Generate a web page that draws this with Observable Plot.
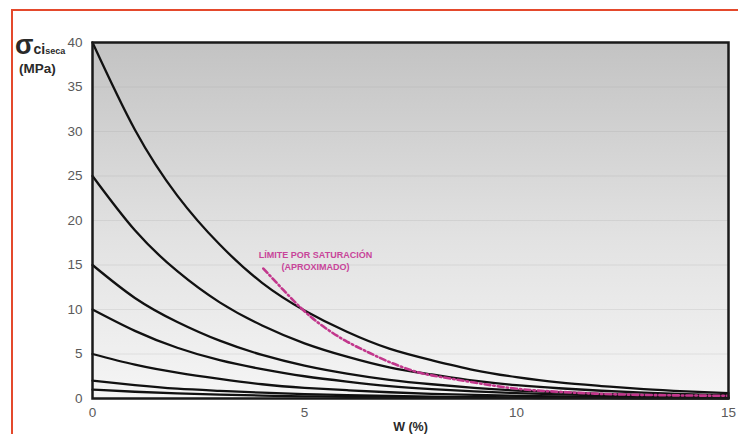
<!DOCTYPE html>
<html>
<head>
<meta charset="utf-8">
<script src="https://cdn.jsdelivr.net/npm/d3@7"></script>
<script src="https://cdn.jsdelivr.net/npm/@observablehq/plot@0.6"></script>
<style>
  html, body { margin: 0; padding: 0; background: #fff; }
  #wrap { position: relative; width: 738px; height: 434px; overflow: hidden; font-family: "Liberation Sans", Arial, sans-serif; }
  #redframe { position: absolute; left: 11px; top: 9px; width: 740px; height: 440px; border-top: 2.5px solid #e4492c; border-left: 2.5px solid #e4492c; pointer-events: none; }
  #ylab { position: absolute; left: 15px; top: 30px; color: #2a2a2a; font-weight: bold; white-space: nowrap; }
  #ylab .sig { font-size: 27px; font-weight: bold; }
  #ylab .ci { font-size: 14px; }
  #ylab .sub { font-size: 9px; }
  #mpa { position: absolute; left: 19px; top: 61px; color: #2a2a2a; font-weight: bold; font-size: 13.5px; }
</style>
</head>
<body>
<div id="wrap">
  <div id="chart"></div>
  <div id="ylab"><span class="sig">σ</span><span class="ci">ci</span><span class="sub">seca</span></div>
  <div id="mpa">(MPa)</div>
  <div id="redframe"></div>
</div>
<script>
// W (%) sample positions
const W = [0, 1, 2, 3, 4, 5, 6, 7, 8, 9, 10, 11, 12, 13, 14, 15];
// curves of dry strength (MPa)
const s40 = [40, 30.2, 22.8, 17.3, 13.0, 9.9, 7.5, 5.6, 4.3, 3.2, 2.4, 1.8, 1.4, 1.05, 0.8, 0.6];
const s25 = [25, 18.9, 14.3, 10.8, 8.2, 6.2, 4.7, 3.5, 2.7, 2.0, 1.5, 1.15, 0.87, 0.65, 0.5, 0.37];
const s15 = [15, 11.3, 8.6, 6.5, 4.9, 3.7, 2.8, 2.1, 1.6, 1.2, 0.9, 0.7, 0.52, 0.4, 0.3, 0.22];
const s10 = [10, 7.6, 5.7, 4.3, 3.3, 2.5, 1.9, 1.4, 1.06, 0.8, 0.6, 0.46, 0.35, 0.26, 0.2, 0.15];
const s5 = [5, 3.8, 2.9, 2.2, 1.6, 1.2, 0.93, 0.7, 0.53, 0.4, 0.3, 0.23, 0.17, 0.13, 0.1, 0.08];
const s2 = [2, 1.5, 1.1, 0.86, 0.65, 0.5, 0.37, 0.28, 0.21, 0.16, 0.12, 0.09, 0.07, 0.05, 0.04, 0.03];
const s1 = [1, 0.76, 0.57, 0.43, 0.33, 0.25, 0.19, 0.14, 0.1, 0.08, 0.06, 0.05, 0.035, 0.026, 0.02, 0.015];
const seriesNames = ["40", "25", "15", "10", "5", "2", "1"];
const seriesValues = [s40, s25, s15, s10, s5, s2, s1];

// saturation limit (approximate)
const limW = [4.03, 4.5, 5.0, 5.5, 6.0, 6.5, 7.0, 7.5, 8.0, 9.0, 10, 11, 12, 13, 14, 15];
const limV = [14.6, 12.2, 9.8, 7.9, 6.4, 5.2, 4.1, 3.2, 2.6, 1.8, 1.1, 0.75, 0.52, 0.4, 0.34, 0.3];
const limLabel = "LÍMITE POR SATURACIÓN\n(APROXIMADO)";

const xTicks = [0, 5, 10, 15];
const yTicks = [0, 5, 10, 15, 20, 25, 30, 35, 40];
const gridTicks = [5, 10, 15, 20, 25, 30, 35];

const rows = [];
seriesNames.forEach((name, i) => {
  seriesValues[i].forEach((v, j) => rows.push({s: name, w: W[j], v}));
});
const limRows = limW.map((w, i) => ({w, v: limV[i]}));

const plot = Plot.plot({
  width: 738,
  height: 434,
  marginLeft: 92,
  marginRight: 10,
  marginTop: 42,
  marginBottom: 36,
  style: {fontFamily: "'Liberation Sans', Arial, sans-serif", background: "transparent"},
  x: {domain: [0, 15]},
  y: {domain: [0, 40]},
  marks: [
    Plot.frame({fill: "url(#bg)", stroke: "none"}),
    Plot.ruleY(gridTicks, {stroke: "#9a9a9a", strokeOpacity: 0.2, strokeWidth: 1}),
    Plot.line(rows, {x: "w", y: "v", z: "s", curve: "natural", stroke: "#111", strokeWidth: 2.3}),
    Plot.line(limRows, {x: "w", y: "v", curve: "natural", stroke: "#c2378c", strokeWidth: 2.6, strokeDasharray: "6,3,1.5,3"}),
    Plot.text([limLabel], {x: 5.26, y: 15.5, text: d => d, fill: "#c8449a", fontSize: 9, fontWeight: "bold", lineHeight: 1.3, textAnchor: "middle"}),
    Plot.frame({stroke: "#1a1a1a", strokeWidth: 2.5}),
    Plot.axisY(yTicks, {tickSize: 0, tickPadding: 10, fontSize: 13.5, fill: "#5a5a5a", label: null}),
    Plot.axisX(xTicks, {tickSize: 0, tickPadding: 9, fontSize: 13.5, fill: "#5a5a5a", label: null}),
    Plot.text(["W (%)"], {frameAnchor: "bottom", dy: 32, text: d => d, fontSize: 12.5, fontWeight: "bold", fill: "#2a2a2a"})
  ]
});

const defs = d3.select(plot).insert("defs", ":first-child");
const grad = defs.append("linearGradient").attr("id", "bg").attr("x1", 0).attr("y1", 0).attr("x2", 0).attr("y2", 1);
grad.append("stop").attr("offset", 0).attr("stop-color", "#c3c3c3");
grad.append("stop").attr("offset", 0.55).attr("stop-color", "#e2e2e2");
grad.append("stop").attr("offset", 1).attr("stop-color", "#f5f5f5");

document.getElementById("chart").appendChild(plot);
</script>
</body>
</html>
